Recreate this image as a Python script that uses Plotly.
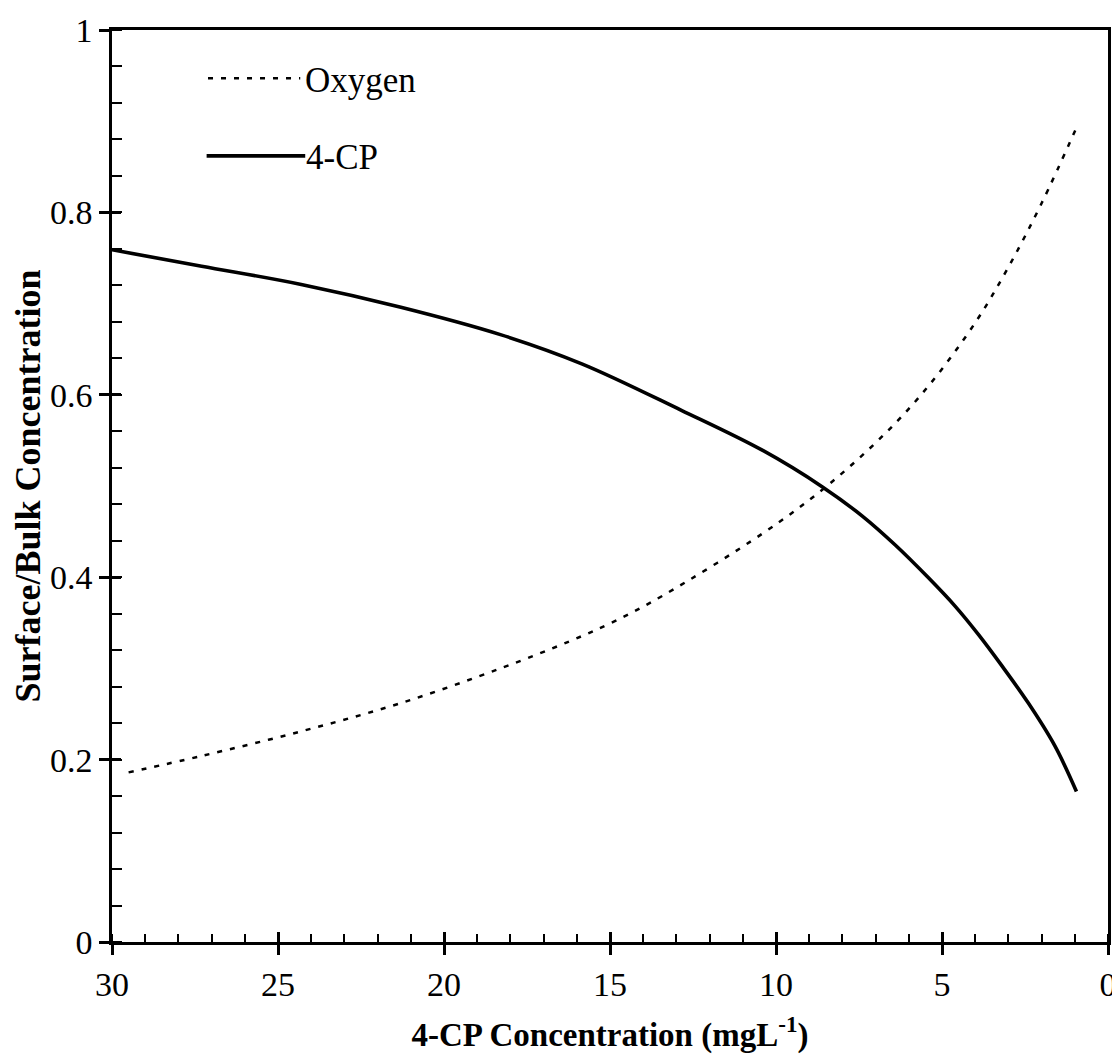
import plotly.graph_objects as go

# ---- data ----
oxygen_x = [29.5, 27.3, 24.3, 21.3, 18.3, 16.2, 14.9, 13.4, 10.4, 8.5, 6.7, 5.4, 4.0, 3.0, 2.0, 0.9]
oxygen_y = [0.186, 0.204, 0.231, 0.262, 0.300, 0.330, 0.351, 0.380, 0.448, 0.499, 0.558, 0.610, 0.679, 0.740, 0.810, 0.897]

cp_x = [30.0, 27.3, 24.3, 21.3, 18.3, 15.85, 12.85, 10.4, 8.6, 7.4, 6.4, 5.4, 4.6, 3.9, 3.2, 2.4, 1.6, 0.95]
cp_y = [0.759, 0.741, 0.721, 0.696, 0.666, 0.634, 0.583, 0.539, 0.499, 0.467, 0.435, 0.399, 0.368, 0.337, 0.303, 0.262, 0.215, 0.165]

x_ticks = [30, 25, 20, 15, 10, 5, 0]
y_ticks = [0, 0.2, 0.4, 0.6, 0.8, 1]
y_tick_labels = ["0", "0.2", "0.4", "0.6", "0.8", "1"]

series_names = ["Oxygen", "4-CP"]
x_title = "4-CP Concentration (mgL<sup>-1</sup>)"
y_title = "Surface/Bulk Concentration"

FONT = "Liberation Serif, Times New Roman, serif"
TICK_SIZE = 34
LEGEND_SIZE = 35
XTITLE_SIZE = 33
YTITLE_SIZE = 36

fig = go.Figure()
fig.add_trace(go.Scatter(x=oxygen_x, y=oxygen_y, mode="lines", name=series_names[0],
                         line=dict(color="black", width=2.5, dash="5px,8px", shape="spline"),
                         showlegend=False))
fig.add_trace(go.Scatter(x=cp_x, y=cp_y, mode="lines", name=series_names[1],
                         line=dict(color="black", width=3.6, shape="spline"),
                         showlegend=False))
# invisible helper trace so the overlay axes (inner half of crossing major ticks) are drawn
fig.add_trace(go.Scatter(x=cp_x, y=cp_y, xaxis="x2", yaxis="y2", mode="lines",
                         line=dict(width=0, color="rgba(0,0,0,0)"), hoverinfo="skip",
                         showlegend=False))

axis_common = dict(showgrid=False, zeroline=False, linecolor="black", linewidth=2.5,
                   tickcolor="black", tickwidth=2.5, automargin=False,
                   tickfont=dict(family=FONT, size=TICK_SIZE, color="black"))

# figure sized to fit inside the page body (8px default body margin) so nothing scrolls
fig.update_layout(
    width=1112, height=1047,
    margin=dict(l=104, r=12, t=22, b=113),
    paper_bgcolor="white", plot_bgcolor="white",
    xaxis=dict(range=[30, 0], tickmode="array", tickvals=x_ticks,
               ticks="outside", ticklen=10, showline=True, mirror=True,
               minor=dict(ticks="inside", ticklen=8, dtick=1, tickcolor="black", tickwidth=2),
               title=dict(text=x_title, font=dict(family=FONT, size=XTITLE_SIZE, color="black", weight="bold"),
                          standoff=22),
               **axis_common),
    yaxis=dict(range=[0, 1], tickmode="array", tickvals=y_ticks, ticktext=y_tick_labels,
               ticks="outside", ticklen=10, showline=True, mirror=True,
               minor=dict(ticks="inside", ticklen=10, dtick=0.04, tickcolor="black", tickwidth=2),
               title=dict(text=y_title, font=dict(family=FONT, size=YTITLE_SIZE, color="black", weight="bold"),
                          standoff=7),
               **axis_common),
    xaxis2=dict(range=[30, 0], overlaying="x", tickmode="array", tickvals=x_ticks,
                ticks="inside", ticklen=10, tickwidth=2.5, tickcolor="black", automargin=False,
                showticklabels=False, showline=False, showgrid=False, zeroline=False),
    yaxis2=dict(range=[0, 1], overlaying="y", tickmode="array", tickvals=y_ticks,
                ticks="inside", ticklen=9, tickwidth=2.5, tickcolor="black", automargin=False,
                showticklabels=False, showline=False, showgrid=False, zeroline=False),
    font=dict(family=FONT, size=TICK_SIZE, color="black"),
)

# manual legend (as in the original figure)
fig.add_shape(type="line", xref="paper", yref="paper", x0=0.0964, x1=0.189, y0=0.947, y1=0.947,
              line=dict(color="black", width=2.5, dash="5px,8px"))
fig.add_shape(type="line", xref="paper", yref="paper", x0=0.095, x1=0.194, y0=0.862, y1=0.862,
              line=dict(color="black", width=3.6))
fig.add_annotation(xref="paper", yref="paper", x=0.192, y=0.945, xanchor="left", yanchor="middle",
                   text=series_names[0], showarrow=False, font=dict(family=FONT, size=LEGEND_SIZE, color="black"))
fig.add_annotation(xref="paper", yref="paper", x=0.193, y=0.860, xanchor="left", yanchor="middle",
                   text=series_names[1], showarrow=False, font=dict(family=FONT, size=LEGEND_SIZE, color="black"))

fig.write_html("out.html")
